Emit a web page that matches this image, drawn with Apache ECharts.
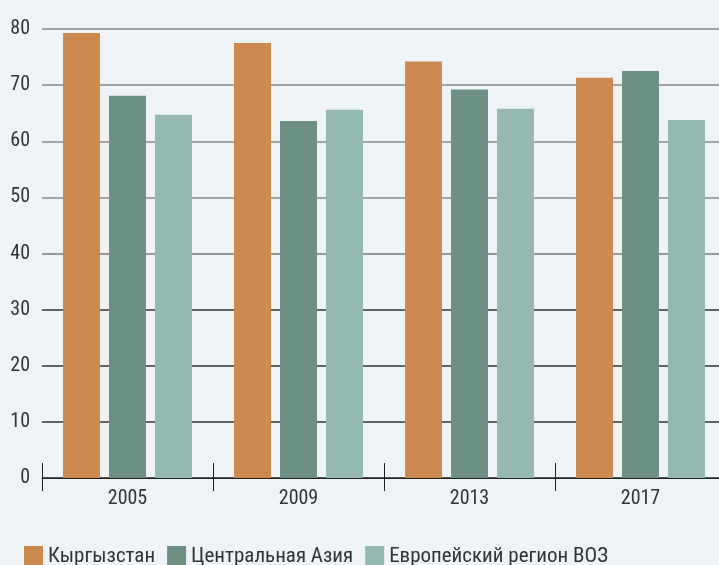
<!DOCTYPE html>
<html>
<head>
<meta charset="utf-8">
<script src="https://cdn.jsdelivr.net/npm/echarts@6/dist/echarts.min.js"></script>
<style>
html,body{margin:0;padding:0;background:#eef3f8;}
#c{width:719px;height:565px;}
</style>
</head>
<body>
<div id="c"></div>
<script>
const categories = ['2005', '2009', '2013', '2017'];
const seriesNames = ['Кыргызстан', 'Центральная Азия', 'Европейский регион ВОЗ'];
const kyrgyzstan = [79.3, 77.5, 74.2, 71.3];
const centralAsia = [68.1, 63.6, 69.2, 72.5];
const euroRegion = [64.7, 65.6, 65.8, 63.8];
const colors = ['#cd8a4e', '#6d8f84', '#95b9b1'];

const font = '"Liberation Sans Narrow", "Roboto Condensed", "Liberation Sans", sans-serif';
const chart = echarts.init(document.getElementById('c'));
const values = [kyrgyzstan, centralAsia, euroRegion];
chart.setOption({
  backgroundColor: '#eef3f8',
  animation: false,
  textStyle: { fontFamily: font },
  legend: {
    left: 19, top: 541,
    itemWidth: 19, itemHeight: 22, itemGap: 12,
    icon: 'rect',
    textStyle: { fontFamily: font, fontSize: 21, color: '#333', padding: [0, 0, 0, 0] },
    data: seriesNames
  },
  grid: { left: 42, width: 684, top: 29, height: 449, containLabel: false, outerBoundsMode: 'none' },
  xAxis: [{
    type: 'category', data: categories, position: 'bottom',
    axisLine: { show: true, lineStyle: { color: '#222', width: 1 } },
    axisTick: { show: true, length: 13, lineStyle: { color: '#222' } },
    axisLabel: { fontFamily: font, fontSize: 20, color: '#333', margin: 11 }
  }, {
    type: 'category', data: categories, position: 'bottom', offset: 0,
    axisLine: { show: false },
    axisTick: { show: true, inside: true, length: 15, lineStyle: { color: '#222' } },
    axisLabel: { show: false }
  }],
  yAxis: {
    type: 'value', min: 0, max: 80, interval: 10,
    axisLine: { show: false }, axisTick: { show: false },
    axisLabel: { fontFamily: font, fontSize: 20, color: '#333', margin: 12 },
    splitLine: { show: true, lineStyle: { width: 1.5, color: ['#222', '#333', '#333', '#333', '#777', '#888', '#888', '#888', '#888'] } }
  },
  series: values.map((v, i) => ({
    name: seriesNames[i], type: 'bar', data: v, xAxisIndex: 0,
    barWidth: 37, barGap: '24.3%',
    itemStyle: { color: colors[i] }
  }))
});
</script>
</body>
</html>
